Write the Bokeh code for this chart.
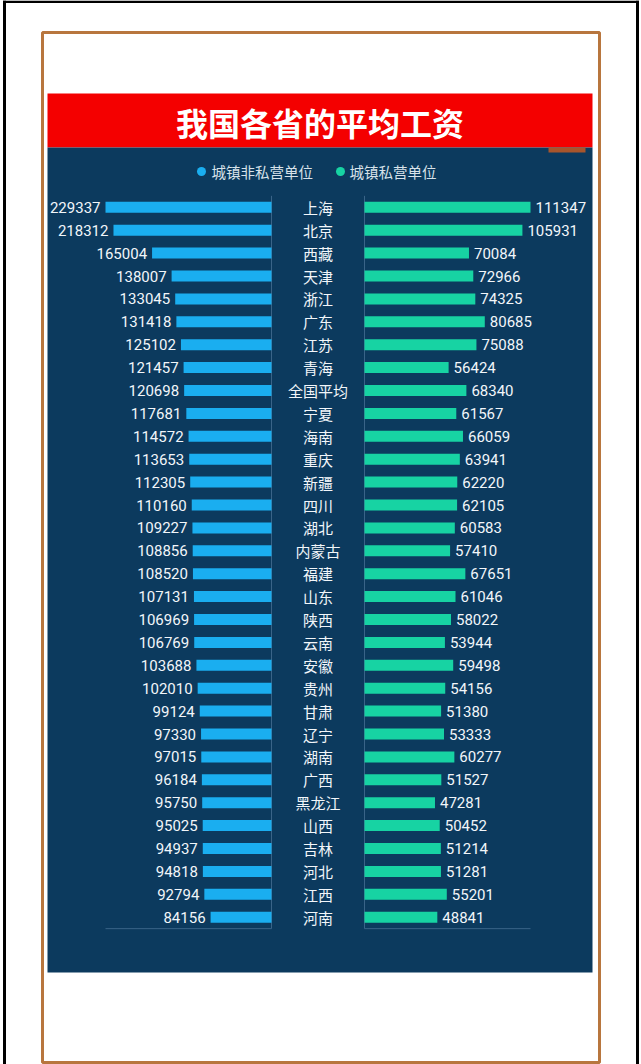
from bokeh.plotting import figure
from bokeh.models import Range1d, ColumnDataSource, Grid
from bokeh.core.properties import value
from bokeh.embed import file_html
from bokeh.resources import INLINE

# ---------------- data ----------------
provinces = ["上海", "北京", "西藏", "天津", "浙江", "广东", "江苏", "青海", "全国平均", "宁夏",
             "海南", "重庆", "新疆", "四川", "湖北", "内蒙古", "福建", "山东", "陕西", "云南",
             "安徽", "贵州", "甘肃", "辽宁", "湖南", "广西", "黑龙江", "山西", "吉林", "河北",
             "江西", "河南"]
non_private = [229337, 218312, 165004, 138007, 133045, 131418, 125102, 121457, 120698, 117681,
               114572, 113653, 112305, 110160, 109227, 108856, 108520, 107131, 106969, 106769,
               103688, 102010, 99124, 97330, 97015, 96184, 95750, 95025, 94937, 94818,
               92794, 84156]
private = [111347, 105931, 70084, 72966, 74325, 80685, 75088, 56424, 68340, 61567,
           66059, 63941, 62220, 62105, 60583, 57410, 67651, 61046, 58022, 53944,
           59498, 54156, 51380, 53333, 60277, 51527, 47281, 50452, 51214, 51281,
           55201, 48841]
title_text = "我国各省的平均工资"
legend_labels = ["城镇非私营单位", "城镇私营单位"]

# ---------------- layout (pixels) ----------------
W, H = 641, 1064
LZERO, RZERO = 271, 364     # zero lines of the two bar groups
BARLEN = 166                # pixel length of the longest bar on each side
ROW0, ROWSTEP = 206.8, 22.9 # first row centre and row pitch

BLUE = "#1aaef0"
GREEN = "#17d3a3"
PANEL = "#0c3a5e"
AXIS = "#3a6488"
TXT = "#f2f6fa"

n = len(provinces)
upp_l = max(non_private) / BARLEN
upp_r = max(private) / BARLEN

p = figure(width=W, height=H, output_backend="svg", toolbar_location=None,
           x_axis_location=None, y_axis_location=None, min_border=0, title=None,
           x_range=Range1d(LZERO * upp_l, -(W - LZERO) * upp_l),
           y_range=Range1d((H - ROW0) / ROWSTEP, -ROW0 / ROWSTEP))
p.extra_x_ranges = {"right": Range1d(-RZERO * upp_r, (W - RZERO) * upp_r),
                    "px": Range1d(0, W)}
p.extra_y_ranges = {"py": Range1d(H, 0)}
p.outline_line_color = None
p.background_fill_color = "white"
p.border_fill_color = "white"
for g in p.select(type=Grid):
    g.visible = False
    g.grid_line_color = None

px = dict(x_range_name="px", y_range_name="py")

# frame decorations
p.quad(left=[2.5, 635.5, 2.5], right=[5.5, 638.5, 638.5], top=[0, 0, 0], bottom=[H, H, 2.5],
       fill_color="black", line_color=None, **px)
p.quad(left=[42], right=[599], top=[32], bottom=[1062], fill_color=None,
       line_color="#b8763e", line_width=3, **px)
p.quad(left=[47], right=[592], top=[93], bottom=[147], fill_color="#f40000",
       line_color=None, **px)
p.quad(left=[47], right=[592], top=[147], bottom=[972], fill_color=PANEL,
       line_color=None, **px)
p.quad(left=[548], right=[585], top=[147], bottom=[152], fill_color="#a8552c",
       line_color=None, **px)

p.text(x=[319.5], y=[121], text=[title_text], text_font=value("Noto Sans CJK SC"),
       text_font_style="bold", text_font_size="32px", text_color="white",
       text_align="center", text_baseline="middle", **px)

# legend
p.scatter(x=[201, 340], y=[171, 171], size=9, fill_color=[BLUE, GREEN], line_color=None, **px)
p.text(x=[211, 349], y=[171, 171], text=legend_labels, text_font=value("Noto Sans CJK SC"),
       text_font_size="14.5px", text_color="#d8e2ea", text_align="left",
       text_baseline="middle", **px)

rows = list(range(n))
src = ColumnDataSource(dict(y=rows, prov=provinces, a=non_private, b=private,
                            sa=[str(v) for v in non_private], sb=[str(v) for v in private],
                            mid=[(LZERO + RZERO) / 2] * n))

# axis lines
p.segment(x0=[0], y0=[-0.5], x1=[0], y1=[n - 0.5], line_color=AXIS, line_width=1)
p.segment(x0=[0], y0=[n - 0.5], x1=[max(non_private)], y1=[n - 0.5], line_color=AXIS, line_width=1)
p.segment(x0=[0], y0=[-0.5], x1=[0], y1=[n - 0.5], line_color=AXIS, line_width=1,
          x_range_name="right")
p.segment(x0=[0], y0=[n - 0.5], x1=[max(private)], y1=[n - 0.5], line_color=AXIS,
          line_width=1, x_range_name="right")

# bars
p.hbar(y="y", left=0, right="a", height=0.48, fill_color=BLUE, line_color=None, source=src)
p.hbar(y="y", left=0, right="b", height=0.48, fill_color=GREEN, line_color=None, source=src,
       x_range_name="right")

# labels
p.text(x="a", y="y", text="sa", x_offset=-5, text_align="right", text_baseline="middle",
       text_font=value("Roboto"), text_font_size="15px", text_color=TXT, source=src)
p.text(x="b", y="y", text="sb", x_offset=5, text_align="left", text_baseline="middle",
       text_font=value("Roboto"), text_font_size="15px", text_color=TXT, source=src,
       x_range_name="right")
p.text(x="mid", y="y", text="prov", text_align="center", text_baseline="middle",
       text_font=value("Noto Sans CJK SC"), text_font_size="15px", text_color=TXT,
       source=src, x_range_name="px")

open("out.html", "w").write(file_html(p, INLINE))
